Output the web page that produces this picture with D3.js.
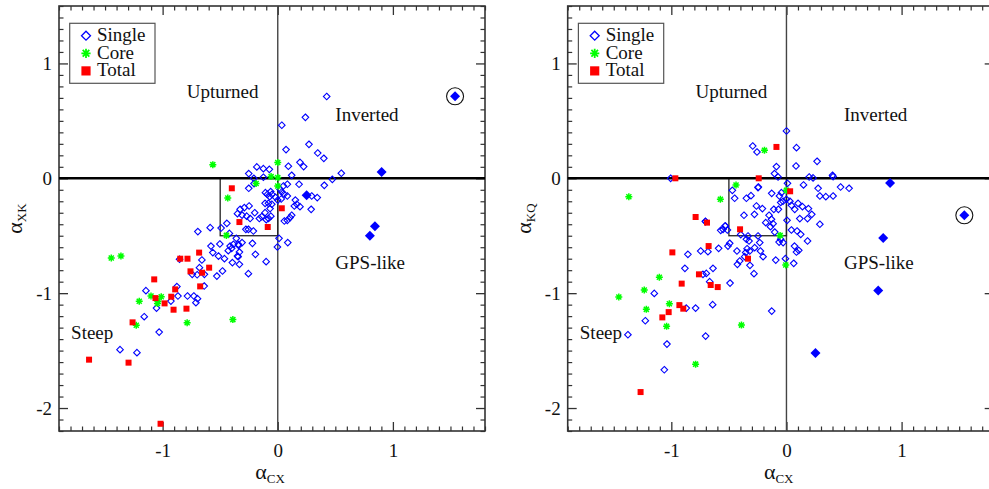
<!DOCTYPE html>
<html>
<head>
<meta charset="utf-8">
<script src="https://cdn.jsdelivr.net/npm/d3@7"></script>
<style>
body { margin: 0; background: #fff; }
svg { display: block; font-family: "Liberation Serif", "Times New Roman", serif; }
</style>
</head>
<body>
<svg id="chart" width="989" height="489"></svg>
<script>
// axis ranges and tick labels
const xDomain = [-1.9, 1.8];
const yDomain = [-2.2, 1.5];
const xTicks = [-1, 0, 1];
const yTicks = [-2, -1, 0, 1];
const legendNames = ["Single", "Core", "Total"];
const regionNames = ["Upturned", "Inverted", "GPS-like", "Steep"];

// left panel: alpha_CX vs alpha_XK
const singleXK = [
  [0.425,0.712],[0.24,0.531],[0.035,0.462],[0.271,0.296],[0.072,0.25],[0.347,0.22],[0.40,0.174],
  [0.193,0.139],[0.225,0.102],[0.092,0.105],[-0.182,0.099],[-0.125,0.084],[-0.073,0.078],[-0.252,0.041],
  [0.121,0.026],[0.552,0.044],[0.474,-0.009],[0.404,-0.061],[0.185,-0.052],[-0.208,0.0],[-0.125,0.009],
  [-0.252,-0.087],[-0.206,-0.046],[-0.107,-0.125],[-0.061,-0.116],[-0.09,-0.14],[-0.05,-0.14],[-0.07,-0.16],
  [0.049,-0.067],[0.083,-0.052],[0.02,-0.096],[0.035,-0.119],[0.055,-0.139],[0.083,-0.154],[-0.02,-0.165],
  [0.0,-0.19],[0.03,-0.18],[0.153,-0.19],[0.165,-0.226],[0.144,-0.241],[0.193,-0.247],[0.295,-0.154],
  [0.343,-0.168],[0.29,-0.27],[-0.052,-0.226],[-0.081,-0.218],[-0.11,-0.218],[-0.067,-0.264],[-0.11,-0.299],
  [-0.139,-0.334],[-0.08,-0.35],[-0.06,-0.33],[-0.1,-0.36],[-0.16,-0.35],[-0.327,-0.27],[-0.29,-0.255],
  [-0.249,-0.241],[-0.35,-0.308],[-0.31,-0.32],[-0.27,-0.33],[-0.24,-0.35],[-0.2,-0.3],[0.083,-0.366],
  [0.107,-0.342],[0.121,-0.322],[0.057,-0.372],[-0.277,-0.444],[-0.255,-0.444],[-0.212,-0.459],
  [-0.492,-0.433],[-0.442,-0.392],[-0.587,-0.43],[-0.694,-0.464],[-0.42,-0.48],[-0.36,-0.523],
  [-0.31,-0.56],[-0.34,-0.584],[-0.40,-0.61],[-0.43,-0.63],[-0.22,-0.566],[-0.194,-0.662],[0.011,-0.523],
  [0.087,-0.56],[-0.003,-0.598],[-0.58,-0.59],[-0.503,-0.572],[-0.564,-0.647],[-0.515,-0.677],
  [-0.463,-0.70],[-0.344,-0.682],[-0.394,-0.734],[-0.333,-0.749],[-0.101,-0.726],[-0.659,-0.711],
  [-0.68,-0.778],[-0.743,-0.836],[-0.70,-0.84],[-0.637,-0.836],[-0.529,-0.851],[-0.48,-0.807],
  [-0.255,-0.83],[-0.639,-0.938],[-0.853,-0.705],[-0.876,-0.943],[-1.145,-0.978],[-0.867,-1.025],
  [-0.784,-1.025],[-0.729,-1.025],[-0.697,-1.048],[-0.711,-1.083],[-0.928,-1.069],[-1.053,-1.13],
  [-1.16,-1.205],[-1.03,-1.339],[-1.37,-1.492],[-1.223,-1.518],[-0.414,-0.59],[-0.385,-0.575],
  [-0.342,-0.575],[-0.35,-0.677],[-0.333,-0.642]
];
const gpsXK = [[0.902,0.055],[0.251,-0.148],[0.844,-0.418],[0.80,-0.50]];
const circledXK = [[1.54,0.714]];
const coreXK = [
  [-0.564,0.119],[0.0,0.137],[-0.058,0.015],[0.0,0.006],[-0.188,-0.045],[0.0,-0.067],[-0.434,-0.172],
  [-0.446,-0.497],[-1.446,-0.694],[-1.362,-0.677],[-1.203,-1.071],[-1.101,-1.025],[-1.012,-1.031],
  [-1.04,-1.07],[-1.045,-1.09],[-1.229,-1.28],[-0.787,-1.257],[-0.39,-1.23]
];
const totalXK = [
  [-0.399,-0.087],[-0.333,-0.381],[-0.087,-0.424],[0.035,-0.261],[-0.683,-0.647],[-0.847,-0.70],
  [-0.784,-0.70],[-0.596,-0.778],[-0.758,-0.81],[-0.657,-0.822],[-1.073,-0.88],[-0.674,-0.941],
  [-0.891,-0.967],[-0.925,-1.031],[-1.062,-1.043],[-0.983,-1.089],[-0.905,-1.144],[-0.793,-1.135],
  [-1.261,-1.254],[-1.639,-1.579],[-1.296,-1.605],[-1.018,-2.137]
];

// right panel: alpha_CX vs alpha_KQ
const singleKQ = [
  [-1.006,0.0],[-0.47,-0.105],[-0.45,-0.174],[-0.348,-0.174],[-0.369,-0.322],[-0.704,-0.375],
  [-0.571,-0.453],[-0.53,-0.415],[-0.513,-0.45],[0.0,0.412],[-0.293,0.281],[-0.256,0.229],[0.087,0.267],
  [0.266,0.148],[0.083,0.107],[-0.087,0.102],[-0.104,0.041],[-0.073,0.011],[0.197,0.011],[0.231,0.003],
  [0.40,0.026],[0.405,0.015],[0.009,-0.044],[0.148,-0.058],[0.275,-0.087],[0.342,-0.16],[0.29,-0.154],
  [0.405,-0.154],[0.47,-0.076],[0.544,-0.087],[-0.247,-0.081],[-0.128,-0.131],[-0.061,-0.154],
  [-0.308,-0.151],[0.0,-0.183],[0.03,-0.2],[-0.03,-0.2],[-0.05,-0.21],[-0.261,-0.241],[-0.209,-0.264],
  [-0.278,-0.314],[-0.11,-0.27],[-0.07,-0.27],[0.043,-0.235],[0.072,-0.27],[0.101,-0.218],[0.139,-0.247],
  [0.191,-0.264],[0.22,-0.314],[0.116,-0.351],[0.183,-0.351],[0.29,-0.40],[0.005,-0.366],[-0.151,-0.322],
  [-0.13,-0.357],[-0.18,-0.386],[-0.139,-0.421],[-0.116,-0.395],[-0.102,-0.468],[0.043,-0.45],
  [0.092,-0.459],[0.124,-0.488],[0.183,-0.546],[-0.064,-0.555],[-0.029,-0.56],[-0.05,-0.53],
  [-0.534,-0.415],[-0.551,-0.444],[-0.397,-0.49],[-0.334,-0.502],[-0.247,-0.502],[-0.348,-0.531],
  [-0.325,-0.546],[-0.276,-0.604],[-0.232,-0.56],[-0.226,-0.633],[-0.342,-0.613],[-0.319,-0.633],
  [-0.354,-0.647],[-0.363,-0.682],[-0.406,-0.72],[-0.426,-0.749],[-0.43,-0.633],[-0.203,-0.682],
  [-0.093,-0.712],[-0.009,-0.70],[0.07,-0.59],[0.087,-0.642],[0.107,-0.627],[0.063,-0.74],
  [-0.282,-0.83],[-0.317,-0.758],[-0.493,-0.566],[-0.508,-0.59],[-0.589,-0.61],[-0.682,-0.639],
  [-0.745,-0.633],[-0.856,-0.662],[-0.702,-0.377],[-0.638,-0.784],[-0.696,-0.828],[-0.725,-0.836],
  [-0.882,-0.784],[-0.667,-0.90],[-0.49,-0.912],[-1.148,-1.002],[-0.87,-1.13],[-0.789,-1.13],
  [-0.641,-1.10],[-0.128,-1.156],[-1.226,-1.24],[-1.377,-1.362],[-1.038,-1.443],[-1.061,-1.667],
  [-0.702,-1.374],[-0.244,-0.076],[-0.044,-0.125]
];
const gpsKQ = [[0.90,-0.041],[0.84,-0.52],[0.797,-0.976],[0.252,-1.522]];
const circledKQ = [[1.545,-0.322]];
const coreKQ = [
  [-1.369,-0.16],[-0.574,-0.183],[-0.438,-0.058],[-0.191,0.244],[0.0,-0.105],[-0.055,-0.497],
  [-0.006,-0.755],[-1.104,-0.862],[-1.235,-0.973],[-1.017,-1.092],[-1.217,-1.141],[-1.456,-1.034],
  [-1.041,-1.289],[-0.789,-1.618],[-0.391,-1.278]
];
const totalKQ = [
  [-0.965,0.0],[-0.789,-0.337],[-0.69,-0.386],[-0.403,-0.444],[-0.676,-0.59],[-0.087,0.273],
  [-0.241,0.0],[0.032,-0.113],[-0.334,-0.70],[-0.991,-0.645],[-0.76,-0.836],[-0.91,-0.917],
  [-0.658,-0.929],[-0.597,-0.947],[-0.93,-1.104],[-0.896,-1.135],[-1.023,-1.165],[-1.078,-1.211],
  [-1.267,-1.861]
];

const BLUE = "#0000ff", GREEN = "#00ff00", RED = "#ff0000";
const W = 426, H = 425, TOP = 6;

// marker paths centred on 0,0
const diamond = r => `M0,${-r}L${r},0L0,${r}L${-r},0Z`;
const square = r => `M${-r},${-r}H${r}V${r}H${-r}Z`;
const star = r => {
  const d = r * 0.72;
  return `M${-r},0H${r}M0,${-r}V${r}M${-d},${-d}L${d},${d}M${-d},${d}L${d},${-d}`;
};

const svg = d3.select("#chart");

function drawPanel(left, sub, singles, gps, circled, cores, totals) {
  const x = d3.scaleLinear().domain(xDomain).range([left, left + W]);
  const y = d3.scaleLinear().domain(yDomain).range([TOP + H, TOP]);
  const g = svg.append("g");

  // minor ticks every 0.1
  const minorX = d3.range(-19, 19).map(v => v / 10).filter(v => !xTicks.includes(v));
  const minorY = d3.range(-22, 16).map(v => v / 10).filter(v => !yTicks.includes(v));

  const axes = [
    [() => d3.axisBottom(x), `translate(0,${TOP + H})`, 13, minorX, xTicks],
    [() => d3.axisTop(x), `translate(0,${TOP})`, null, minorX, xTicks],
    [() => d3.axisLeft(y), `translate(${left},0)`, 7, minorY, yTicks],
    [() => d3.axisRight(y), `translate(${left + W},0)`, null, minorY, yTicks]
  ];
  axes.forEach(([make, tr, pad, minor, major]) => {
    g.append("g").attr("transform", tr)
      .call(make().tickValues(major).tickSize(-9).tickPadding(pad || 0)
        .tickFormat(pad ? d => String(d) : ""))
      .call(s => s.select(".domain").remove())
      .call(s => s.selectAll("line").attr("stroke", "#333").attr("stroke-width", 1.3))
      .call(s => s.selectAll("text").attr("font-size", 19).attr("fill", "#111")
        .attr("font-family", "Liberation Serif"));
    g.append("g").attr("transform", tr)
      .call(make().tickValues(minor).tickSize(-4.5).tickFormat(""))
      .call(s => s.select(".domain").remove())
      .call(s => s.selectAll("line").attr("stroke", "#333").attr("stroke-width", 1.2));
  });

  // frame
  g.append("rect").attr("x", x(xDomain[0])).attr("y", y(yDomain[1]))
    .attr("width", W).attr("height", H)
    .attr("fill", "none").attr("stroke", "#333").attr("stroke-width", 1.6);

  // zero lines and the small box
  g.append("line").attr("x1", x(0)).attr("x2", x(0)).attr("y1", y(yDomain[0])).attr("y2", y(yDomain[1]))
    .attr("stroke", "#444").attr("stroke-width", 1.4);
  g.append("rect").attr("x", x(-0.5)).attr("y", y(0))
    .attr("width", x(0) - x(-0.5)).attr("height", y(-0.5) - y(0))
    .attr("fill", "none").attr("stroke", "#222").attr("stroke-width", 1.3);
  g.append("line").attr("x1", x(xDomain[0])).attr("x2", x(xDomain[1])).attr("y1", y(0)).attr("y2", y(0))
    .attr("stroke", "#000").attr("stroke-width", 2.6);

  // region names
  const regionX = [-0.79, 0.5, 0.5, -1.795], regionY = [0.70, 0.5, -0.79, -1.40];
  g.selectAll(".region").data(regionNames).enter().append("text")
    .attr("x", (d, i) => x(regionX[i])).attr("y", (d, i) => y(regionY[i]))
    .attr("font-size", 19).attr("fill", "#111").text(d => d);

  // points
  const pts = (cls, data, path, attrs) => {
    const sel = g.selectAll("." + cls).data(data).enter().append("path")
      .attr("class", cls)
      .attr("transform", d => `translate(${x(d[0])},${y(d[1])})`)
      .attr("d", path);
    Object.entries(attrs).forEach(([k, v]) => sel.attr(k, v));
  };
  pts("single", singles, diamond(3.3), { fill: "none", stroke: BLUE, "stroke-width": 1.1 });
  pts("core", cores, star(3.5), { fill: "none", stroke: GREEN, "stroke-width": 1.5 });
  pts("total", totals, square(3), { fill: RED });
  pts("gps", gps, diamond(5), { fill: BLUE });
  pts("circled", circled, diamond(5), { fill: BLUE });
  g.selectAll(".ring").data(circled).enter().append("circle")
    .attr("cx", d => x(d[0])).attr("cy", d => y(d[1])).attr("r", 8.5)
    .attr("fill", "none").attr("stroke", "#111").attr("stroke-width", 1.1);

  // legend
  const lx = left + 10.7, ly = TOP + 17.3;
  g.append("rect").attr("x", lx).attr("y", ly).attr("width", 85.3).attr("height", 60)
    .attr("fill", "#fff").attr("stroke", "#555").attr("stroke-width", 1.2);
  const marks = [
    [diamond(4.5), { fill: "none", stroke: BLUE, "stroke-width": 1.3 }],
    [star(4.6), { fill: "none", stroke: GREEN, "stroke-width": 1.8 }],
    [square(4.6), { fill: RED }]
  ];
  legendNames.forEach((name, i) => {
    const cy = ly + 12.4 + i * 17.6;
    const m = g.append("path").attr("transform", `translate(${lx + 16.3},${cy})`).attr("d", marks[i][0]);
    Object.entries(marks[i][1]).forEach(([k, v]) => m.attr(k, v));
    g.append("text").attr("x", lx + 27.3).attr("y", cy + 5.5).attr("font-size", 19)
      .attr("fill", "#111").text(name);
  });

  // axis titles
  const xt = g.append("text").attr("x", left + W / 2 - 2).attr("y", TOP + H + 48)
    .attr("text-anchor", "middle").attr("fill", "#111");
  xt.append("tspan").attr("font-size", 22).text("\u03b1");
  xt.append("tspan").attr("font-size", 13).attr("dy", 4).text("CX");

  const yt = g.append("text").attr("transform", `translate(${left - 37},${TOP + H / 2}) rotate(-90)`)
    .attr("text-anchor", "middle").attr("fill", "#111");
  yt.append("tspan").attr("font-size", 22).text("\u03b1");
  yt.append("tspan").attr("font-size", 13).attr("dy", 4).text(sub);
}

drawPanel(59, "XK", singleXK, gpsXK, circledXK, coreXK, totalXK);
drawPanel(567.7, "KQ", singleKQ, gpsKQ, circledKQ, coreKQ, totalKQ);
</script>
</body>
</html>
